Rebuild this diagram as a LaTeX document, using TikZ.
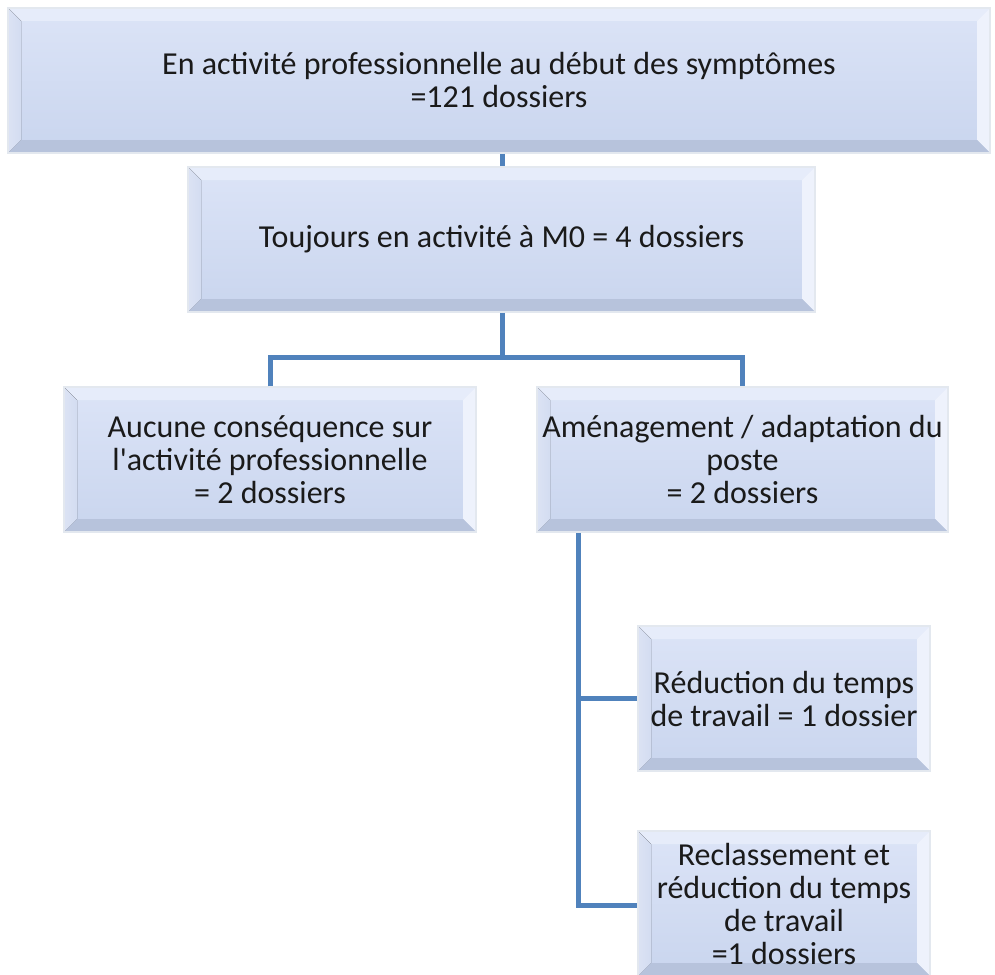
\documentclass[tikz,border=0pt]{standalone}
\usepackage{fontspec}
\setmainfont{Carlito}[Ligatures=TeXOff]
\definecolor{linkblue}{HTML}{5082BC}
\definecolor{fillTop}{HTML}{DCE4F7}
\definecolor{fillBot}{HTML}{C9D5EE}
\definecolor{bevTop}{HTML}{E6ECFA}
\definecolor{bevLeft}{HTML}{D3DCF1}
\definecolor{bevRight}{HTML}{EEF2FC}
\definecolor{bevBot}{HTML}{B7C3DC}
\definecolor{rimCol}{HTML}{E3E8EF}
\definecolor{txtCol}{HTML}{1A1A1A}
\tikzset{
  bevbox/.style={
    rectangle, draw=rimCol, line width=1.5pt, inner sep=0pt,
    minimum height=145pt, align=center, text=txtCol,
    font=\fontsize{32}{33}\selectfont,
    path picture={
      \def\bv{13pt}
      \coordinate (SW) at (path picture bounding box.south west);
      \coordinate (NE) at (path picture bounding box.north east);
      \coordinate (NW) at (path picture bounding box.north west);
      \coordinate (SE) at (path picture bounding box.south east);
      \fill[top color=fillTop, bottom color=fillBot] (SW) rectangle (NE);
      \fill[bevTop] (NW) -- (NE) -- ([shift={(-\bv,-\bv)}]NE) -- ([shift={(\bv,-\bv)}]NW) -- cycle;
      \fill[left color=bevLeft!80!white, right color=bevLeft] (NW) -- ([shift={(\bv,-\bv)}]NW) -- ([shift={(\bv,\bv)}]SW) -- (SW) -- cycle;
      \fill[bevRight] (NE) -- (SE) -- ([shift={(-\bv,\bv)}]SE) -- ([shift={(-\bv,-\bv)}]NE) -- cycle;
      \fill[bevBot] (SW) -- ([shift={(\bv,\bv)}]SW) -- ([shift={(-\bv,\bv)}]SE) -- (SE) -- cycle;
    }
  },
  link/.style={draw=linkblue, line width=5pt}
}
\begin{document}
\begin{tikzpicture}[x=1pt,y=1pt]
\useasboundingbox (0,0) rectangle (995,-974);
\node[bevbox, minimum width=982pt] (top) at (499,-80.5)
  {En activité professionnelle au début des symptômes\\=121 dossiers};
\node[bevbox, minimum width=627pt] (m0) at (501.5,-239.5)
  {Toujours en activité à M0 = 4 dossiers};
\node[bevbox, minimum width=412pt] (aucune) at (270,-459.5)
  {Aucune conséquence sur\\l'activité professionnelle\\= 2 dossiers};
\node[bevbox, minimum width=411pt] (amen) at (742.5,-459.5)
  {Aménagement / adaptation du\\poste\\= 2 dossiers};
\node[bevbox, minimum width=292pt] (reduc) at (784,-698.5)
  {Réduction du temps\\de travail = 1 dossier};
\node[bevbox, minimum width=292pt] (reclass) at (784,-903.5)
  {Reclassement et\\réduction du temps\\de travail\\=1 dossiers};
\coordinate (hub) at (502,-357);
\coordinate (side) at (578,-905);
\coordinate (sideR) at (side |- reduc.west);
\draw[link] (top.south -| hub) -- (m0.north -| hub);
\draw[link] (m0.south -| hub) -- (hub);
\draw[link] (aucune.north) |- (hub) -| (amen.north);
\draw[link] (amen.south -| side) -- (side) -- (side -| reclass.west);
\draw[link] (sideR) -- (reduc.west);
\end{tikzpicture}
\end{document}
